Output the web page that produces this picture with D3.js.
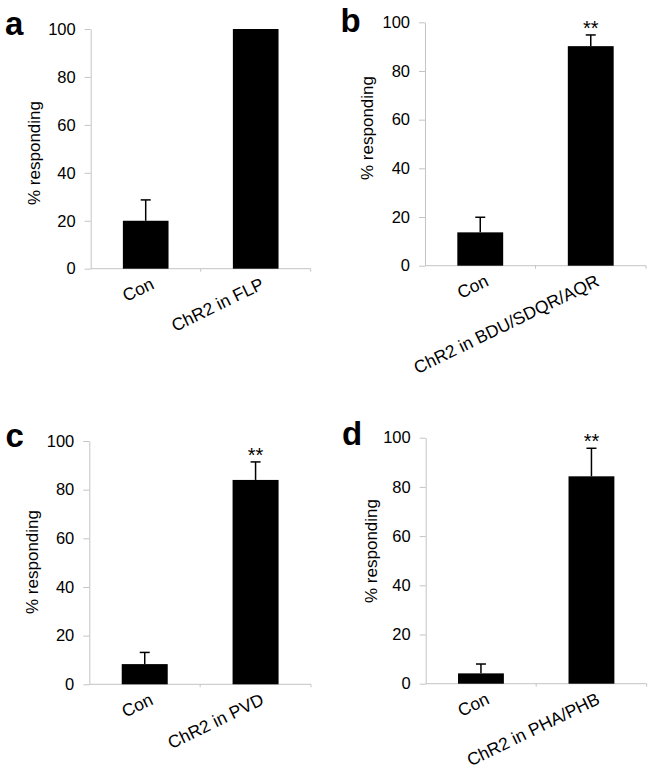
<!DOCTYPE html>
<html>
<head>
<meta charset="utf-8">
<script src="https://cdn.jsdelivr.net/npm/d3@7"></script>
<style>
  body { margin: 0; background: #fff; }
  svg { display: block; }
  text { font-family: "Liberation Sans", Arial, sans-serif; fill: #000; }
</style>
</head>
<body>
<svg id="chart" width="654" height="770"></svg>
<script>
// data, one entry per panel
const panelLetters = ['a', 'b', 'c', 'd'];
const categories = [
  ['Con', 'ChR2 in FLP'],
  ['Con', 'ChR2 in BDU/SDQR/AQR'],
  ['Con', 'ChR2 in PVD'],
  ['Con', 'ChR2 in PHA/PHB']
];
const means = [[20, 100], [13.7, 90.2], [8.3, 84], [4.2, 84.3]];
const errors = [[8.7, 0], [6.2, 4.6], [4.8, 7.4], [3.8, 11.4]];
const stars = [['', ''], ['', '**'], ['', '**'], ['', '**']];
const yTicks = [0, 20, 40, 60, 80, 100];
const yTitle = '% responding';

// where each panel sits on the page
const layout = [
  { x0: 90.7, x1: 310.7, top: 29, bottom: 268.7, letterX: 5, letterY: 35, titleX: 40, titleY: 153 },
  { x0: 425, x1: 646, top: 22.3, bottom: 265.7, letterX: 340.5, letterY: 31.7, titleX: 373, titleY: 128 },
  { x0: 89.3, x1: 311, top: 441, bottom: 684.3, letterX: 5.5, letterY: 446.7, titleX: 38, titleY: 562 },
  { x0: 425.7, x1: 646.7, top: 437.7, bottom: 683.7, letterX: 342, letterY: 445, titleX: 377, titleY: 551 }
];

const svg = d3.select('#chart');
const axisColor = '#c4c4c4';

panelLetters.forEach((letter, i) => {
  const L = layout[i];
  const g = svg.append('g');

  const x = d3.scaleBand()
    .domain(categories[i])
    .range([L.x0, L.x1])
    .paddingInner(0.585)
    .paddingOuter(0.2925);

  const y = d3.scaleLinear()
    .domain([0, 100])
    .range([L.bottom, L.top]);

  // y axis
  const yAxis = g.append('g')
    .attr('transform', 'translate(' + L.x0 + ',0)')
    .call(d3.axisLeft(y).tickValues(yTicks).tickSizeInner(6).tickSizeOuter(0).tickPadding(9));
  yAxis.select('.domain').attr('stroke', axisColor);
  yAxis.selectAll('.tick line').attr('stroke', axisColor);
  yAxis.selectAll('.tick text')
    .style('font-family', '"Liberation Sans", Arial, sans-serif')
    .style('font-size', '16.5px')
    .attr('fill', '#000');

  // x axis: plain line with small ticks at category boundaries
  const xAxis = g.append('g')
    .attr('transform', 'translate(0,' + L.bottom + ')');
  xAxis.append('line')
    .attr('x1', L.x0).attr('x2', L.x1)
    .attr('stroke', axisColor);
  const bounds = [(L.x0 + L.x1) / 2, L.x1];
  xAxis.selectAll('.xt').data(bounds).join('line')
    .attr('class', 'xt')
    .attr('x1', d => d).attr('x2', d => d)
    .attr('y1', 0).attr('y2', 3)
    .attr('stroke', axisColor);

  const rows = categories[i].map((c, j) => ({ c, m: means[i][j], e: errors[i][j], s: stars[i][j] }));

  // bars
  g.selectAll('.bar').data(rows).join('rect')
    .attr('class', 'bar')
    .attr('x', d => x(d.c))
    .attr('y', d => y(d.m))
    .attr('width', x.bandwidth())
    .attr('height', d => y(0) - y(d.m))
    .attr('fill', '#000');

  // error bars (upper half only)
  const eb = rows.filter(d => d.e > 0);
  g.selectAll('.err').data(eb).join('line')
    .attr('class', 'err')
    .attr('x1', d => x(d.c) + x.bandwidth() / 2)
    .attr('x2', d => x(d.c) + x.bandwidth() / 2)
    .attr('y1', d => y(d.m))
    .attr('y2', d => y(d.m + d.e))
    .attr('stroke', '#000').attr('stroke-width', 1.5);
  g.selectAll('.cap').data(eb).join('line')
    .attr('class', 'cap')
    .attr('x1', d => x(d.c) + x.bandwidth() / 2 - 5)
    .attr('x2', d => x(d.c) + x.bandwidth() / 2 + 5)
    .attr('y1', d => y(d.m + d.e))
    .attr('y2', d => y(d.m + d.e))
    .attr('stroke', '#000').attr('stroke-width', 1.5);

  // significance stars
  g.selectAll('.star').data(rows.filter(d => d.s)).join('text')
    .attr('class', 'star')
    .attr('x', d => x(d.c) + x.bandwidth() / 2)
    .attr('y', d => y(d.m + d.e))
    .attr('text-anchor', 'middle')
    .style('font-size', '20px')
    .text(d => d.s);

  // rotated category labels
  g.selectAll('.cat').data(rows).join('text')
    .attr('class', 'cat')
    .attr('text-anchor', 'end')
    .attr('dy', '0.72em')
    .attr('transform', d => 'translate(' + (x(d.c) + x.bandwidth() / 2 + 4) + ',' + (L.bottom + 8) + ') rotate(-26)')
    .style('font-size', '17.5px')
    .text(d => d.c);

  // y title
  g.append('text')
    .attr('text-anchor', 'middle')
    .attr('transform', 'translate(' + L.titleX + ',' + L.titleY + ') rotate(-90)')
    .style('font-size', '17px')
    .text(yTitle);

  // panel letter
  g.append('text')
    .attr('x', L.letterX)
    .attr('y', L.letterY)
    .style('font-size', '33px')
    .style('font-weight', 'bold')
    .text(letter);
});
</script>
</body>
</html>
